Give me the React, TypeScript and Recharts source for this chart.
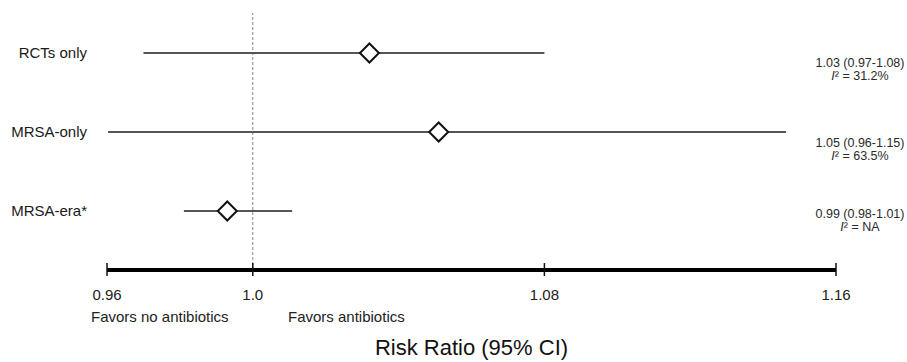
import { ScatterChart, Scatter, XAxis, YAxis, ErrorBar, ReferenceLine } from 'recharts';

const rowNames = ['RCTs only', 'MRSA-only', 'MRSA-era*'];
const riskRatios = [1.032, 1.051, 0.993];
const ciLow = [0.97, 0.9603, 0.9811];
const ciHigh = [1.08, 1.1463, 1.0108];
const summaryText = ['1.03 (0.97-1.08)', '1.05 (0.96-1.15)', '0.99 (0.98-1.01)'];
const i2Text = ['31.2%', '63.5%', 'NA'];
const xTicks = [0.96, 1.0, 1.08, 1.16];
const xTickLabels = ['0.96', '1.0', '1.08', '1.16'];

const data = rowNames.map((name, i) => ({
  name,
  row: i,
  rr: riskRatios[i],
  err: [riskRatios[i] - ciLow[i], ciHigh[i] - riskRatios[i]],
}));

const FONT = '"Liberation Sans", Arial, Helvetica, sans-serif';

const Diamond = (props: any) => {
  const { cx, cy } = props;
  const r = 9.5;
  return (
    <polygon
      points={`${cx},${cy - r} ${cx + r},${cy} ${cx},${cy + r} ${cx - r},${cy}`}
      fill="#fff"
      stroke="#111"
      strokeWidth={2}
    />
  );
};

const XTick = (props: any) => {
  const { x, y, payload, index } = props;
  return (
    <g>
      <line x1={x} x2={x} y1={y - 7} y2={y + 6} stroke="#111" strokeWidth={1.5} />
      <text x={x} y={y + 30} textAnchor="middle" fontSize={15} fill="#222" fontFamily={FONT}>
        {xTickLabels[index] ?? payload.value}
      </text>
    </g>
  );
};

// summary text sits a little under each row
const rowShift = [10, 11, 3];

const RightTick = (props: any) => {
  const { x, y, payload } = props;
  const i = Math.round(Number(payload.value));
  if (summaryText[i] === undefined) return null;
  const cx = x + 24;
  const top = y + rowShift[i] + 4;
  return (
    <g>
      <text x={cx} y={top} textAnchor="middle" fontFamily={FONT} fontSize={12.5} fill="#2a2a2a">
        {summaryText[i]}
      </text>
      <text x={cx} y={top + 13} textAnchor="middle" fontFamily={FONT} fontSize={12.5} fill="#2a2a2a">
        <tspan fontStyle="italic">I</tspan>
        <tspan>{`\u00B2 = ${i2Text[i]}`}</tspan>
      </text>
    </g>
  );
};

export default function App() {
  return (
    <div style={{ position: 'absolute', left: 0, top: 0, width: 907, height: 362, background: '#fff' }}>
      <ScatterChart width={907} height={362} margin={{ top: 13, right: 0, bottom: 0, left: 0 }}>
        <XAxis
          type="number"
          dataKey="rr"
          domain={[0.96, 1.16]}
          ticks={xTicks}
          interval={0}
          height={92}
          tickSize={0}
          tickMargin={0}
          axisLine={{ stroke: '#000', strokeWidth: 4 }}
          tickLine={false}
          tick={<XTick />}
          label={{
            value: 'Risk Ratio (95% CI)',
            position: 'insideBottom',
            offset: 7,
            fontSize: 22,
            fill: '#111',
            fontFamily: FONT,
          }}
        />
        <YAxis
          yAxisId="left"
          type="number"
          dataKey="row"
          domain={[-0.506, 2.747]}
          reversed
          ticks={[0, 1, 2]}
          width={107}
          axisLine={false}
          tickLine={false}
          tickSize={0}
          tickMargin={20}
          tickFormatter={(v: number) => rowNames[v] ?? ''}
          tick={{ fontSize: 15, fill: '#1a1a1a', fontFamily: FONT }}
        />
        <YAxis
          yAxisId="right"
          orientation="right"
          type="number"
          dataKey="row"
          domain={[-0.506, 2.747]}
          reversed
          ticks={[0, 1, 2]}
          interval={0}
          width={71}
          axisLine={false}
          tickLine={false}
          tickSize={0}
          tickMargin={0}
          tick={<RightTick />}
        />
        <ReferenceLine yAxisId="left" x={1.0} stroke="#888" strokeWidth={1} strokeDasharray="3 2" />
        <Scatter yAxisId="left" data={data} shape={<Diamond />} isAnimationActive={false}>
          <ErrorBar dataKey="err" direction="x" width={0} stroke="#555" strokeWidth={2} />
        </Scatter>
        <Scatter yAxisId="right" data={data} shape={() => <g />} isAnimationActive={false} />
      </ScatterChart>
      <div style={{ position: 'absolute', left: 91, top: 308, fontFamily: FONT, fontSize: 15, color: '#222', whiteSpace: 'nowrap' }}>
        Favors no antibiotics
      </div>
      <div style={{ position: 'absolute', left: 288, top: 308, fontFamily: FONT, fontSize: 15, color: '#222', whiteSpace: 'nowrap' }}>
        Favors antibiotics
      </div>
    </div>
  );
}
